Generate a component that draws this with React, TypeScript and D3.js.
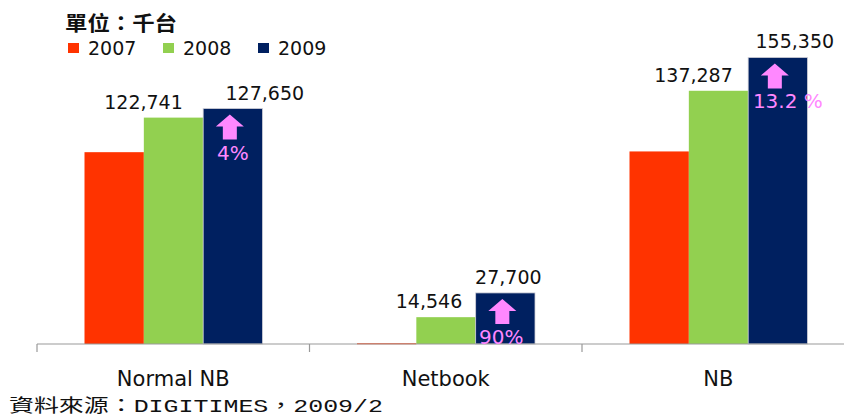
import React, { useEffect, useRef } from 'react';
import * as d3 from 'd3';

const categories = ['Normal NB', 'Netbook', 'NB'];
const years = ['2007', '2008', '2009'];
const values2007 = [104000, 400, 104400];
const values2008 = [122741, 14546, 137287];
const values2009 = [127650, 27700, 155350];
const growthLabels = ['4%', '90%', '13.2 %'];
const yearColors = ['#ff3300', '#92d050', '#002060'];

const unitLabel = '單位：千台';
const sourceLabel = '資料來源：DIGITIMES，2009/2';

// label nudges, the original excel labels sit off centre
const label2008Dx = [-30, -17, -25];
const label2009Dx = [32, 3, 17];
const growthDx = [0, -4, 10];

const width = 844;
const height = 417;
const baseY = 344;
const axisLeft = 37;

const App: React.FC = () => {
    const svgRef = useRef<SVGSVGElement | null>(null);

    useEffect(() => {
        const svg = d3.select(svgRef.current);
        svg.selectAll('*').remove();

        const x = d3.scaleBand<string>().domain(categories).range([axisLeft, axisLeft + 272.5 * 3]);
        const xYear = d3.scaleBand<string>().domain(years).range([47.5, 225.5]);
        const y = d3.scaleLinear().domain([0, 180000]).range([baseY, 12]);

        const series = [values2007, values2008, values2009];
        const numFmt = d3.format(',');

        // bars
        years.forEach((yr, si) => {
            svg.append('g')
                .selectAll('rect')
                .data(series[si])
                .join('rect')
                .attr('x', (_, i) => (x(categories[i]) ?? 0) + (xYear(yr) ?? 0))
                .attr('y', d => y(d))
                .attr('width', xYear.bandwidth())
                .attr('height', d => Math.max(baseY - y(d), 1))
                .attr('fill', yearColors[si])
                .attr('stroke', si === 2 ? '#d0d0d8' : 'none')
                .attr('stroke-width', 0.8);
        });

        // axis
        const axisG = svg.append('g').attr('transform', `translate(0,${baseY})`);
        axisG.append('line')
            .attr('x1', axisLeft).attr('x2', width)
            .attr('stroke', '#999').attr('stroke-width', 1.2);
        axisG.selectAll('line.tick')
            .data(categories)
            .join('line')
            .attr('class', 'tick')
            .attr('x1', d => x(d) ?? 0).attr('x2', d => x(d) ?? 0)
            .attr('y1', 0).attr('y2', 8)
            .attr('stroke', '#999').attr('stroke-width', 1.2);
        axisG.selectAll('text')
            .data(categories)
            .join('text')
            .attr('x', d => (x(d) ?? 0) + x.bandwidth() / 2)
            .attr('y', 42)
            .attr('text-anchor', 'middle')
            .attr('font-family', 'DejaVu Sans, sans-serif')
            .attr('font-size', 21)
            .attr('fill', '#111')
            .text(d => d);

        const barCenter = (i: number, yr: string) =>
            (x(categories[i]) ?? 0) + (xYear(yr) ?? 0) + xYear.bandwidth() / 2;

        // value labels for 2008 and 2009
        const valLabel = (vals: number[], yr: string, dx: number[]) => {
            svg.append('g')
                .selectAll('text')
                .data(vals)
                .join('text')
                .attr('x', (_, i) => barCenter(i, yr) + dx[i])
                .attr('y', d => y(d) - 9)
                .attr('text-anchor', 'middle')
                .attr('font-family', 'DejaVu Sans, sans-serif')
                .attr('font-size', 19)
                .attr('fill', '#111')
                .text(d => numFmt(d));
        };
        valLabel(values2008, '2008', label2008Dx);
        valLabel(values2009, '2009', label2009Dx);

        // growth arrows + percent
        const arrow = 'M0,-12 L14,0 L7,0 L7,13 L-7,13 L-7,0 L-14,0 Z';
        const growthG = svg.append('g');
        values2009.forEach((v, i) => {
            const cx = barCenter(i, '2009');
            const top = y(v);
            growthG.append('path')
                .attr('d', arrow)
                .attr('transform', `translate(${cx - 3},${top + 18})`)
                .attr('fill', '#ff88ff');
            growthG.append('text')
                .attr('x', cx + growthDx[i])
                .attr('y', top + 51)
                .attr('text-anchor', 'middle')
                .attr('font-family', 'DejaVu Sans, sans-serif')
                .attr('font-size', 20)
                .attr('fill', '#ff88ff')
                .text(growthLabels[i]);
        });

        // legend
        svg.append('text')
            .attr('x', 65).attr('y', 31)
            .attr('font-family', 'Noto Sans CJK TC, sans-serif')
            .attr('font-size', 20)
            .attr('font-weight', 'bold')
            .attr('textLength', 112)
            .attr('lengthAdjust', 'spacingAndGlyphs')
            .attr('fill', '#111')
            .text(unitLabel);
        const legX = [68, 163, 258];
        const leg = svg.append('g')
            .selectAll('g')
            .data(years)
            .join('g')
            .attr('transform', (_, i) => `translate(${legX[i]},43)`);
        leg.append('rect').attr('width', 11).attr('height', 10).attr('fill', (_, i) => yearColors[i]);
        leg.append('text')
            .attr('x', 20).attr('y', 12)
            .attr('font-family', 'DejaVu Sans, sans-serif')
            .attr('font-size', 19)
            .attr('fill', '#111')
            .text(d => d);

        // source
        svg.append('text')
            .attr('x', 9).attr('y', 412)
            .attr('font-family', 'Liberation Mono, Noto Sans CJK TC, monospace')
            .attr('font-size', 18)
            .attr('textLength', 374)
            .attr('lengthAdjust', 'spacingAndGlyphs')
            .attr('fill', '#111')
            .text(sourceLabel);
    }, []);

    return (
        <svg ref={svgRef} width={width} height={height} viewBox={`0 0 ${width} ${height}`}
            style={{ position: 'absolute', left: 0, top: 0, background: '#fff' }} />
    );
};

export default App;
